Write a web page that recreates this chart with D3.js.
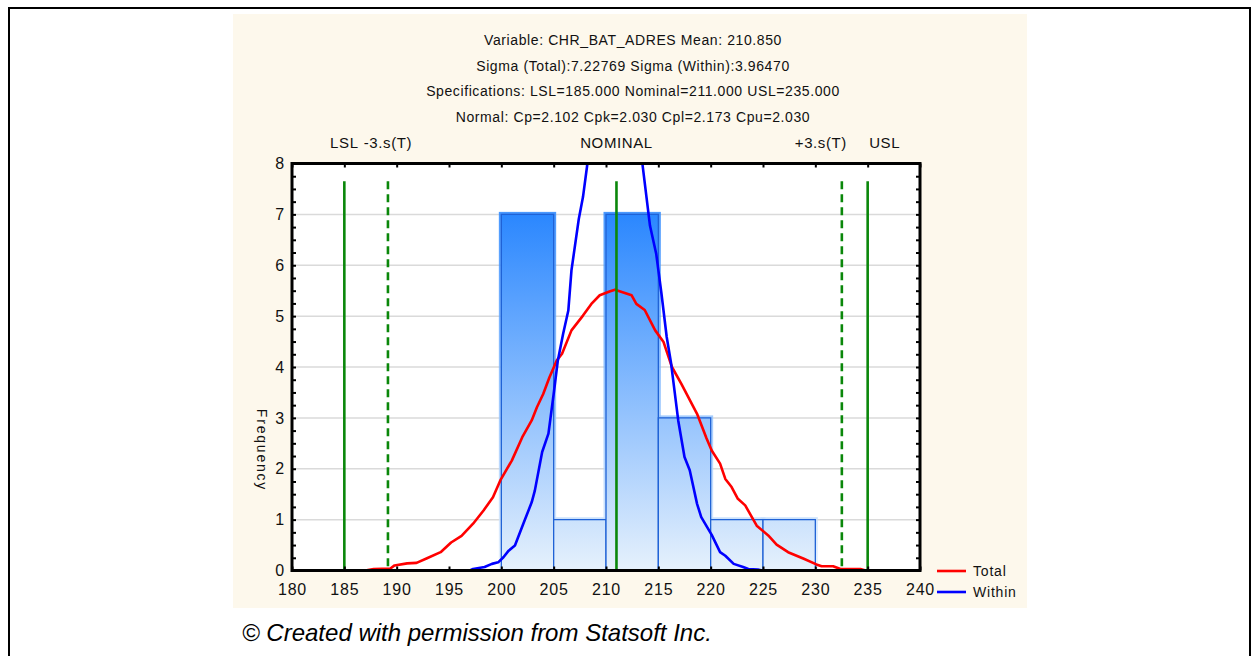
<!DOCTYPE html>
<html>
<head>
<meta charset="utf-8">
<script src="https://cdn.jsdelivr.net/npm/d3@7"></script>
<style>
  body { margin: 0; background: #fff; }
  svg { display: block; font-family: "Liberation Sans", Arial, sans-serif; }
</style>
</head>
<body>
<svg id="chart" width="1252" height="656"></svg>
<script>
const binStarts = [200, 205, 210, 215, 220, 225];
const binCounts = [7, 1, 7, 3, 1, 1];
const binWidth = 5;

const xTicks = [180, 185, 190, 195, 200, 205, 210, 215, 220, 225, 230, 235, 240];
const yTicks = [0, 1, 2, 3, 4, 5, 6, 7, 8];

const specNames = ["LSL", "-3.s(T)", "NOMINAL", "+3.s(T)", "USL"];
const specValues = [185, 189.167, 211, 232.533, 235];
const specDashed = [false, true, false, true, false];
const specTop = 7.65;

// red curve
const totalCurve = [
  [180, 0], [187, 0], [187.8, 0.03], [189.4, 0.04], [189.8, 0.1], [191, 0.14],
  [191.9, 0.15], [192.9, 0.24], [194.2, 0.36], [195.2, 0.55], [196.2, 0.68],
  [197.3, 0.92], [198.3, 1.18], [199.2, 1.44], [199.9, 1.77], [201, 2.16],
  [202, 2.62], [202.9, 2.95], [203.4, 3.21], [204, 3.47], [204.6, 3.8],
  [205.3, 4.13], [205.8, 4.26], [206.7, 4.72], [207.8, 5.01], [208.6, 5.24],
  [209.4, 5.41], [210.4, 5.49], [210.86, 5.52], [212.45, 5.41], [212.9, 5.24],
  [213.7, 5.12], [214.7, 4.72], [215.5, 4.49], [216.3, 4.0], [217.2, 3.67],
  [218.7, 3.08], [219.6, 2.6], [220.1, 2.36], [220.9, 2.1], [221.4, 1.8],
  [222, 1.64], [222.6, 1.41], [223.3, 1.28], [224.4, 0.88], [225.5, 0.69],
  [226.3, 0.51], [227.4, 0.36], [228.9, 0.23], [230.1, 0.12], [230.6, 0.085],
  [231.7, 0.085], [232.4, 0.03], [234.3, 0.03], [234.8, 0], [240, 0]
];

// blue curve (runs above the plot between ~208.5 and ~213.3)
const withinCurve = [
  [180, 0], [197, 0], [197.3, 0.03], [198.4, 0.07], [199.1, 0.13], [199.7, 0.16],
  [200.2, 0.26], [200.7, 0.39], [201.3, 0.49], [202.1, 0.92], [202.9, 1.34],
  [203.2, 1.57], [203.9, 2.33], [204.5, 2.69], [205, 3.47], [205.4, 4.13],
  [205.9, 4.65], [206.4, 5.11], [206.7, 5.9], [207.4, 6.91], [207.8, 7.34],
  [208.2, 7.96], [208.5, 8.6], [213.3, 8.6], [213.5, 7.96], [214.2, 6.78],
  [214.8, 6.22], [215.3, 5.44], [215.8, 4.59], [216.2, 4.1], [216.9, 2.95],
  [217.5, 2.23], [218, 1.97], [218.7, 1.31], [219.1, 1.05], [220.1, 0.7],
  [220.9, 0.36], [221.4, 0.29], [222.2, 0.13], [223.1, 0.07], [223.6, 0.03],
  [224.5, 0.02], [224.9, 0], [240, 0]
];

const headerLines = [
  "Variable: CHR_BAT_ADRES   Mean: 210.850",
  "Sigma (Total):7.22769 Sigma (Within):3.96470",
  "Specifications: LSL=185.000 Nominal=211.000 USL=235.000",
  "Normal: Cp=2.102 Cpk=2.030 Cpl=2.173 Cpu=2.030"
];
const legendNames = ["Total", "Within"];
const legendColors = ["#ff0000", "#0000ff"];

const svg = d3.select("#chart");

const x = d3.scaleLinear().domain([180, 240]).range([292, 920]);
const y = d3.scaleLinear().domain([0, 8]).range([570.5, 163.5]);

// outer frame + beige panel
svg.append("rect").attr("x", 9).attr("y", 8).attr("width", 1241).attr("height", 660)
  .attr("fill", "#fff").attr("stroke", "#000").attr("stroke-width", 2);
svg.append("rect").attr("x", 233).attr("y", 14).attr("width", 794).attr("height", 594)
  .attr("fill", "#fdf8ec");

// header text
svg.append("g").selectAll("text").data(headerLines).join("text")
  .attr("x", 633).attr("y", (d, i) => 45 + i * 25.7)
  .attr("text-anchor", "middle").attr("font-size", 14).attr("letter-spacing", 0.6)
  .attr("fill", "#111")
  .text((d) => d);

// plot background
svg.append("rect").attr("x", x(180)).attr("y", y(8))
  .attr("width", x(240) - x(180)).attr("height", y(0) - y(8)).attr("fill", "#fff");

const defs = svg.append("defs");
const grad = defs.append("linearGradient").attr("id", "barGrad")
  .attr("gradientUnits", "userSpaceOnUse")
  .attr("x1", 0).attr("x2", 0).attr("y1", y(8)).attr("y2", y(0));
grad.append("stop").attr("offset", "0%").attr("stop-color", "#1078ff");
grad.append("stop").attr("offset", "100%").attr("stop-color", "#e6f1fc");

defs.append("clipPath").attr("id", "plotClip").append("rect")
  .attr("x", x(180)).attr("y", y(8))
  .attr("width", x(240) - x(180)).attr("height", y(0) - y(8));

// grid
svg.append("g").selectAll("line").data(yTicks.filter((t) => t > 0 && t < 8)).join("line")
  .attr("x1", x(180)).attr("x2", x(240))
  .attr("y1", (d) => y(d)).attr("y2", (d) => y(d))
  .attr("stroke", "#dadada").attr("stroke-width", 1.5);

// bars
const bars = binStarts.map((s, i) => ({ x0: s, x1: s + binWidth, n: binCounts[i] }));
const barG = svg.append("g");
barG.selectAll("rect.halo").data(bars).join("rect").attr("class", "halo")
  .attr("x", (d) => x(d.x0) - 2.5).attr("y", (d) => y(d.n) - 2.5)
  .attr("width", (d) => x(d.x1) - x(d.x0) + 5).attr("height", (d) => y(0) - y(d.n) + 2.5)
  .attr("fill", "url(#barGrad)").attr("opacity", 0.85);
barG.selectAll("rect.bar").data(bars).join("rect").attr("class", "bar")
  .attr("x", (d) => x(d.x0)).attr("y", (d) => y(d.n))
  .attr("width", (d) => x(d.x1) - x(d.x0)).attr("height", (d) => y(0) - y(d.n))
  .attr("fill", "url(#barGrad)").attr("stroke", "#1f62d6").attr("stroke-width", 1.3);

// curves
const line = d3.line().x((d) => x(d[0])).y((d) => y(d[1]));
const curveG = svg.append("g").attr("clip-path", "url(#plotClip)");
curveG.append("path").datum(totalCurve).attr("d", line)
  .attr("fill", "none").attr("stroke", "#ff0000").attr("stroke-width", 2.6)
  .attr("stroke-linejoin", "round");
curveG.append("path").datum(withinCurve).attr("d", line)
  .attr("fill", "none").attr("stroke", "#0000ff").attr("stroke-width", 2.6)
  .attr("stroke-linejoin", "round");

// spec lines
const specs = specNames.map((name, i) => ({ name, v: specValues[i], dashed: specDashed[i] }));
svg.append("g").selectAll("line").data(specs).join("line")
  .attr("x1", (d) => x(d.v)).attr("x2", (d) => x(d.v))
  .attr("y1", y(specTop)).attr("y2", y(0))
  .attr("stroke", "#0a870a").attr("stroke-width", 2.6)
  .attr("stroke-dasharray", (d) => (d.dashed ? "8,5" : null));

const labelShift = { "+3.s(T)": -21, "USL": 17 };
svg.append("g").selectAll("text").data(specs).join("text")
  .attr("x", (d) => x(d.v) + (labelShift[d.name] || 0)).attr("y", 148)
  .attr("text-anchor", "middle").attr("font-size", 15).attr("letter-spacing", 0.6)
  .attr("fill", "#111")
  .text((d) => d.name);

// axes
const tickFont = (g) => g.selectAll("text").attr("font-size", 16).attr("letter-spacing", 0.8)
  .attr("font-family", "Liberation Sans, Arial, sans-serif").attr("fill", "#111");
const minorY = d3.range(0, 8.01, 0.25);

svg.append("g").attr("transform", `translate(${x(180)},0)`)
  .call(d3.axisLeft(y).tickValues(yTicks).tickSize(0).tickPadding(7).tickFormat(d3.format("d")))
  .call((g) => g.select(".domain").remove())
  .call(tickFont);
svg.append("g").attr("transform", `translate(${x(180)},0)`)
  .call(d3.axisRight(y).tickValues(minorY).tickSize(4).tickFormat(""))
  .call((g) => g.select(".domain").remove())
  .call((g) => g.selectAll("line").attr("stroke-width", 2));
svg.append("g").attr("transform", `translate(${x(240)},0)`)
  .call(d3.axisLeft(y).tickValues(minorY).tickSize(4).tickFormat(""))
  .call((g) => g.select(".domain").remove())
  .call((g) => g.selectAll("line").attr("stroke-width", 2));

svg.append("g").attr("transform", `translate(0,${y(0)})`)
  .call(d3.axisBottom(x).tickValues(xTicks).tickSize(0).tickPadding(13).tickFormat(d3.format("d")))
  .call((g) => g.select(".domain").remove())
  .call(tickFont);
svg.append("g").attr("transform", `translate(0,${y(0)})`)
  .call(d3.axisTop(x).tickValues(xTicks).tickSize(4).tickFormat(""))
  .call((g) => g.select(".domain").remove())
  .call((g) => g.selectAll("line").attr("stroke-width", 2));
svg.append("g").attr("transform", `translate(0,${y(8)})`)
  .call(d3.axisBottom(x).tickValues(xTicks).tickSize(4).tickFormat(""))
  .call((g) => g.select(".domain").remove())
  .call((g) => g.selectAll("line").attr("stroke-width", 2));

// plot frame
svg.append("rect").attr("x", x(180)).attr("y", y(8))
  .attr("width", x(240) - x(180)).attr("height", y(0) - y(8))
  .attr("fill", "none").attr("stroke", "#000").attr("stroke-width", 3);

// y label
svg.append("text").attr("transform", `translate(257,450) rotate(90)`)
  .attr("text-anchor", "middle").attr("font-size", 14).attr("letter-spacing", 1.8)
  .attr("fill", "#111")
  .text("Frequency");

// legend
const legG = svg.append("g").selectAll("g").data(legendNames).join("g")
  .attr("transform", (d, i) => `translate(937,${571 + i * 21})`);
legG.append("line").attr("x1", 0).attr("x2", 29)
  .attr("stroke", (d, i) => legendColors[i]).attr("stroke-width", 2.6);
legG.append("text").attr("x", 36).attr("y", 5).attr("font-size", 14).attr("letter-spacing", 0.8)
  .attr("fill", "#111")
  .text((d) => d);

// footer
svg.append("text").attr("x", 242).attr("y", 641).attr("font-size", 24)
  .attr("font-style", "italic").attr("fill", "#000")
  .text("\u00a9 Created with permission from Statsoft Inc.");
</script>
</body>
</html>
